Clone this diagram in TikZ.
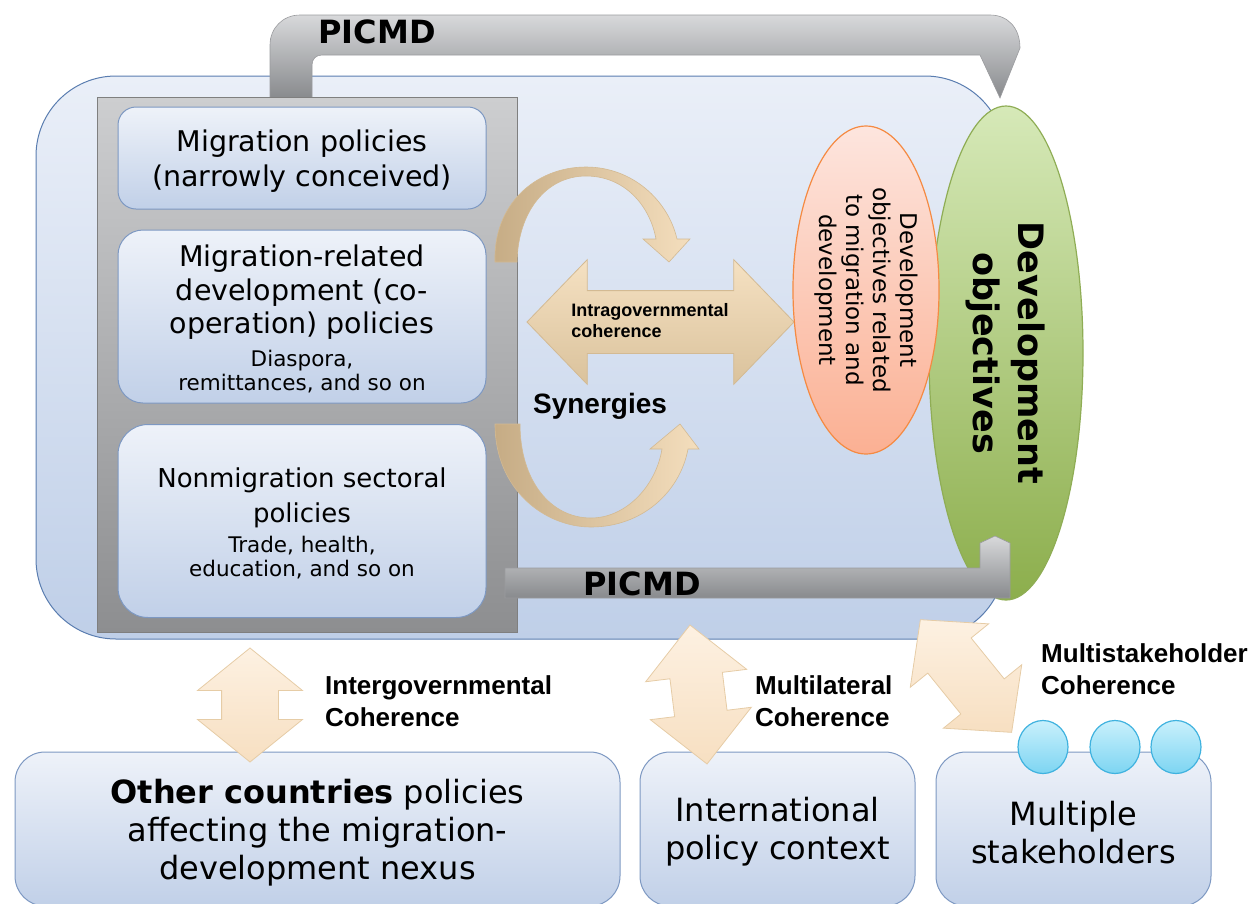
\documentclass[tikz,border=0pt]{standalone}
\usepackage{fontspec}
\setmainfont{DejaVu Sans}
\newfontfamily\labfont{Liberation Sans}
\usetikzlibrary{shapes.geometric,shapes.arrows}

\definecolor{govtop}{HTML}{EAEFF8}
\definecolor{govbot}{HTML}{BFCFE8}
\definecolor{govline}{HTML}{5A7DB0}
\definecolor{paneltop}{HTML}{CDCED0}
\definecolor{panelbot}{HTML}{8D8E90}
\definecolor{panelline}{HTML}{7F7F7F}
\definecolor{boxtop}{HTML}{EEF2F9}
\definecolor{boxbot}{HTML}{C1D0E8}
\definecolor{boxline}{HTML}{7D98C2}
\definecolor{bandtop}{HTML}{D8D9DB}
\definecolor{bandbot}{HTML}{888A8D}
\definecolor{bandline}{HTML}{9A9B9E}
\definecolor{ribdark}{HTML}{C6AC85}
\definecolor{riblight}{HTML}{F4DEBD}
\definecolor{ribline}{HTML}{D3BA93}
\definecolor{intratop}{HTML}{F5E1C2}
\definecolor{intrabot}{HTML}{DAC29C}
\definecolor{cohtop}{HTML}{FDF1E2}
\definecolor{cohbot}{HTML}{F7DFC1}
\definecolor{cohline}{HTML}{E6CCA6}
\definecolor{ortop}{HTML}{FDE5DE}
\definecolor{orbot}{HTML}{FBB093}
\definecolor{orline}{HTML}{F58A42}
\definecolor{grtop}{HTML}{D6E9B8}
\definecolor{grbot}{HTML}{8CAE4C}
\definecolor{grline}{HTML}{8FAD55}
\definecolor{staketop}{HTML}{C9F0FC}
\definecolor{stakebot}{HTML}{7DD5F2}
\definecolor{stakeline}{HTML}{3FB2DF}

\newcommand{\subtxt}{\fontsize{21.5}{24}\selectfont}

\begin{document}
\begin{tikzpicture}[x=1pt,y=-1pt,
    policy/.style={draw=boxline, line width=1, top color=boxtop, bottom color=boxbot,
        minimum width=368, inner sep=0, align=center, font=\fontsize{28.5}{34}\selectfont},
    ctx/.style={draw=boxline, line width=1, top color=boxtop, bottom color=boxbot,
        rounded corners=30, minimum height=154, inner sep=0, align=center,
        font=\fontsize{32}{38}\selectfont},
    band/.style={draw=bandline, line width=0.6, top color=bandtop, bottom color=bandbot},
    ribbon/.style={draw=ribline, line width=0.6, left color=ribdark, right color=riblight},
    cohere/.style={double arrow, draw=cohline, line width=0.8, top color=cohtop,
        bottom color=cohbot, inner xsep=0},
    cohlabel/.style={anchor=west, inner sep=0, align=left,
        font=\labfont\bfseries\fontsize{26}{32}\selectfont},
    picmdlab/.style={inner sep=0, font=\bfseries\fontsize{32}{32}\selectfont},
    stake/.style={ellipse, minimum width=50, minimum height=53, inner sep=0,
        draw=stakeline, line width=1.2, top color=staketop, bottom color=stakebot}]

    % 画布
    \path[use as bounding box, clip] (0,0) rectangle (1259,903);

    % 外框
    \node[draw=govline, line width=1, top color=govtop, bottom color=govbot,
        rounded corners=80, minimum width=969, minimum height=563, inner sep=0]
        (gov) at (520.5,357.5) {};

    % 上方 PICMD 带
    \shade[band] (270,98) -- (270,45) .. controls (270,28) and (283,15) .. (300,15)
        -- (990,15) .. controls (1008,15) and (1020,28) .. (1020,48) -- (1000,98)
        -- (980,55) -- (322,55) .. controls (316,55) and (312,59) .. (312,65)
        -- (312,98) -- cycle;
    \node[picmdlab] (picmdtop) at (377,32) {PICMD};

    % 灰色面板和政策框
    \node[draw=panelline, line width=0.8, top color=paneltop, bottom color=panelbot,
        minimum width=420, minimum height=535, inner sep=0] (panel) at (307,364.5) {};
    \node[policy, rounded corners=18, minimum height=102] (migpol) at (302,158)
        {\rule{0pt}{28pt}Migration policies\\[1pt](narrowly conceived)};
    \node[policy, rounded corners=25, minimum height=173] (migdev) at (302,316.5)
        {\rule{0pt}{27pt}Migration-related\\development (co-\\[-1pt]operation) policies\\[-1pt]
        {\subtxt Diaspora,}\\[-10pt]{\subtxt remittances, and so on}};
    \node[policy, rounded corners=30, minimum height=193,
        font=\fontsize{26}{35}\selectfont] (sector) at (302,521)
        {\rule{0pt}{25pt}Nonmigration sectoral\\policies\\[-5pt]
        {\subtxt Trade, health,}\\[-11pt]{\subtxt education, and so on}};

    % 协同弯箭头
    \shade[ribbon] (495,262) .. controls (493,205) and (535,167) .. (586,167)
        .. controls (632,167) and (668,200) .. (677,239) -- (690,239) -- (669,262)
        -- (643,239) -- (656,239) .. controls (650,206) and (625,176) .. (586,176)
        .. controls (546,176) and (518,212) .. (517,262) -- cycle;
    \shade[ribbon] (495,424) .. controls (495,490) and (545,527) .. (591,527)
        .. controls (642,527) and (680,492) .. (688,449) -- (699,449) -- (680,424)
        -- (650,449) -- (662,449) .. controls (656,486) and (626,518) .. (591,518)
        .. controls (550,518) and (520,480) .. (520,424) -- cycle;

    % 政府内一致性
    \node[double arrow, draw=ribline, line width=0.8, top color=intratop,
        bottom color=intrabot, inner xsep=0, inner ysep=31, minimum height=267,
        minimum width=124, double arrow head extend=31, double arrow tip angle=92]
        (intra) at (660.5,322) {};
    \node[inner sep=0, align=left, font=\labfont\bfseries\fontsize{18}{21}\selectfont]
        (intralab) at (650,321) {Intragovernmental\\coherence};
    \node[inner sep=0, font=\labfont\bfseries\fontsize{28}{28}\selectfont]
        (syn) at (600,406) {Synergies};

    % 发展目标
    \node[ellipse, rotate=-90, minimum width=494, minimum height=154, inner sep=0,
        draw=grline, line width=1.2, top color=grtop, bottom color=grbot, align=center,
        font=\bfseries\fontsize{35}{45}\selectfont] (devobj) at (1006,353)
        {Development\\objectives};
    \node[ellipse, rotate=-90, minimum width=328, minimum height=145, inner sep=0,
        draw=orline, line width=1.2, top color=ortop, bottom color=orbot, align=center,
        font=\fontsize{23}{27}\selectfont] (relobj) at (866,290)
        {Development\\objectives related\\to migration and\\development};

    % 下方 PICMD 带
    \shade[band] (505,568) -- (980,568) -- (980,543) -- (995,536) -- (1010,543)
        -- (1010,598) -- (505,598) -- cycle;
    \node[picmdlab] (picmdbot) at (642,584) {PICMD};

    % 下方框
    \node[ctx, minimum width=605] (others) at (317.5,829)
        {\rule{0pt}{32.5pt}{\bfseries Other countries} policies\\affecting the migration-\\development nexus};
    \node[ctx, minimum width=275] (intl) at (777.5,829)
        {\rule{0pt}{30.5pt}International\\policy context};
    \node[ctx, minimum width=275] (multi) at (1073.5,829)
        {\rule{0pt}{30.5pt}Multiple\\stakeholders};
    \foreach \x [count=\i] in {1043,1115,1176}
        \node[stake] (stake\i) at (\x,747) {};

    % 一致性箭头
    \node[cohere, minimum height=114, minimum width=104, inner ysep=28,
        double arrow head extend=24, double arrow tip angle=102, rotate=90]
        (intergov) at (250,705) {};
    \node[cohere, minimum height=140, minimum width=101, inner ysep=26,
        double arrow head extend=24.5, double arrow tip angle=90, rotate=-83]
        (multilat) at (698.5,694.5) {};
    \node[cohere, minimum height=145, minimum width=100, inner ysep=27.5,
        double arrow head extend=22.5, double arrow tip angle=95, rotate=-51]
        (multistake) at (966,676) {};

    % 标签
    \node[cohlabel] (intergovlab) at (325,701) {Intergovernmental\\Coherence};
    \node[cohlabel] (multilatlab) at (755,701) {Multilateral\\Coherence};
    \node[cohlabel] (stakelab) at (1041,669) {Multistakeholder\\Coherence};
\end{tikzpicture}
\end{document}
